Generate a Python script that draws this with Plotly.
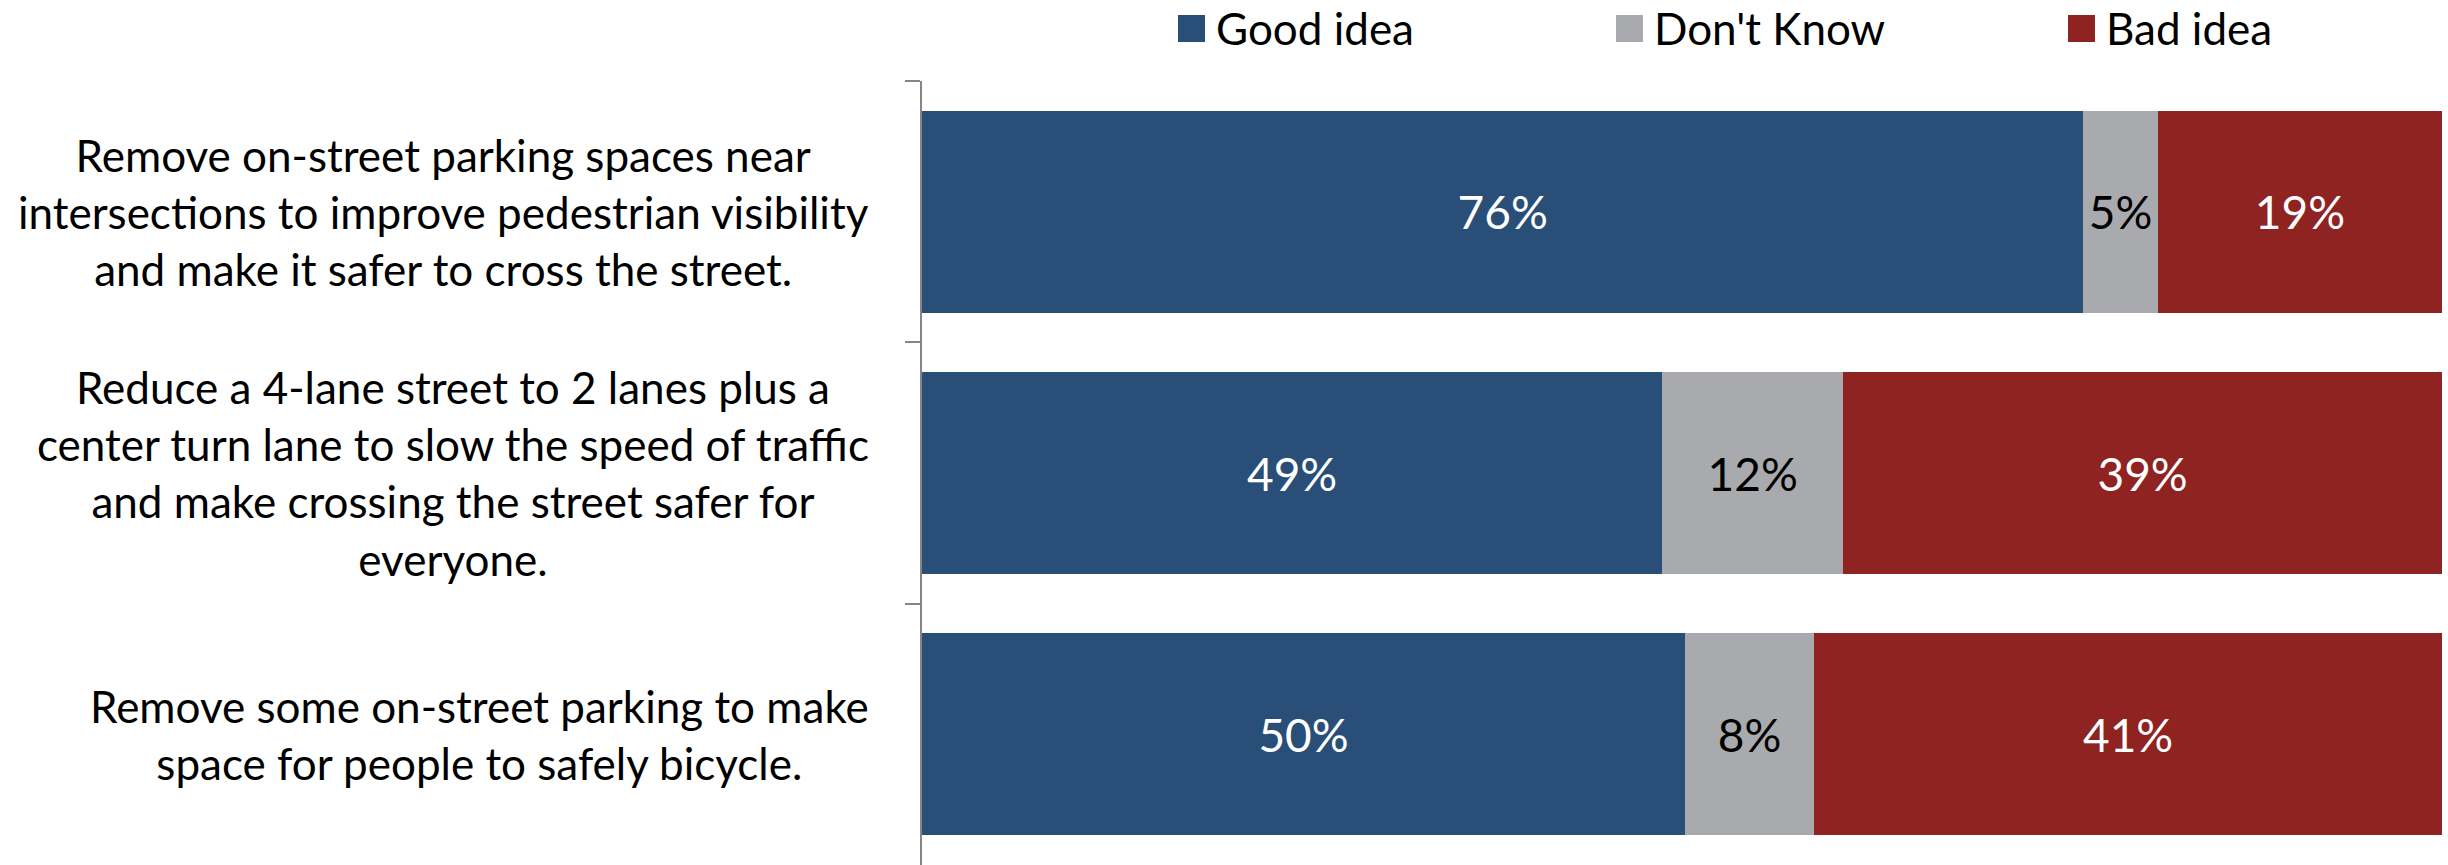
import plotly.graph_objects as go

# Data
categories = [
    "Remove on-street parking spaces near<br>intersections to improve pedestrian visibility<br>and make it safer to cross the street.",
    "Reduce a 4-lane street to 2 lanes plus a<br>center turn lane to slow the speed of traffic<br>and make crossing the street safer for<br>everyone.",
    "Remove some on-street parking to make<br>space for people to safely bicycle.",
]
series_names = ["Good idea", "Don't Know", "Bad idea"]
good_vals = [76.4, 48.7, 50.2]
dontknow_vals = [4.9, 11.9, 8.5]
bad_vals = [18.7, 39.4, 41.3]
good_text = ["76%", "49%", "50%"]
dontknow_text = ["5%", "12%", "8%"]
bad_text = ["19%", "39%", "41%"]

colors = ["#294F78", "#A9AAAD", "#8E2322"]
text_colors = ["white", "black", "white"]

W, H = 2448, 865
M_L, M_R, M_T, M_B = 922, 6, 81, 0
FONT = "Lato"
FS = 44       # category labels / legend
FS_BAR = 46   # percentages inside bars


# pixel -> paper coords
def px_x(x):
    return (x - M_L) / (W - M_L - M_R)


def px_y(y):
    return (H - M_B - y) / (H - M_T - M_B)


fig = go.Figure()
for name, vals, txt, col, tcol in zip(series_names,
                                      [good_vals, dontknow_vals, bad_vals],
                                      [good_text, dontknow_text, bad_text],
                                      colors, text_colors):
    fig.add_trace(go.Bar(
        y=categories, x=vals, name=name, orientation="h",
        marker=dict(color=col, line=dict(width=0)),
        text=txt, textposition="inside", insidetextanchor="middle",
        constraintext="none", textangle=0,
        textfont=dict(family=FONT, size=FS_BAR, color=tcol),
        showlegend=False, hoverinfo="skip",
    ))

# category labels (centred text blocks, right edge near the axis)
for cat in categories:
    fig.add_annotation(x=px_x(871), xref="paper", xanchor="right",
                       y=cat, yref="y", yanchor="middle",
                       text=cat, showarrow=False, align="center",
                       font=dict(family=FONT, size=FS, color="black"))

# legend drawn by hand so the swatches can be big
legend_x = [1178, 1616, 2068]
for name, col, lx in zip(series_names, colors, legend_x):
    fig.add_shape(type="rect", xref="paper", yref="paper",
                  x0=px_x(lx), x1=px_x(lx + 27), y0=px_y(42), y1=px_y(15),
                  fillcolor=col, line=dict(width=0))
    fig.add_annotation(x=px_x(lx + 36), xref="paper", xanchor="left",
                       y=px_y(28), yref="paper", yanchor="middle",
                       text=name, showarrow=False,
                       font=dict(family=FONT, size=FS, color="black"))

fig.update_layout(
    barmode="stack", bargap=0.227,
    width=W, height=H,
    margin=dict(l=M_L, r=M_R, t=M_T, b=M_B, pad=0),
    plot_bgcolor="white", paper_bgcolor="white",
    font=dict(family=FONT, size=FS),
    xaxis=dict(range=[0, 100], visible=False, fixedrange=True),
    yaxis=dict(categoryorder="array", categoryarray=categories,
               autorange="reversed", showticklabels=False, fixedrange=True,
               showline=True, linecolor="#868686", linewidth=2,
               ticks="outside", ticklen=15, tickwidth=2, tickcolor="#868686",
               tickson="boundaries", showgrid=False, zeroline=False),
)

# drop the page's default body margin so the figure sits at (0, 0)
fig.write_html("out.html", config={"displayModeBar": False},
               post_script="document.body.style.margin='0';")
